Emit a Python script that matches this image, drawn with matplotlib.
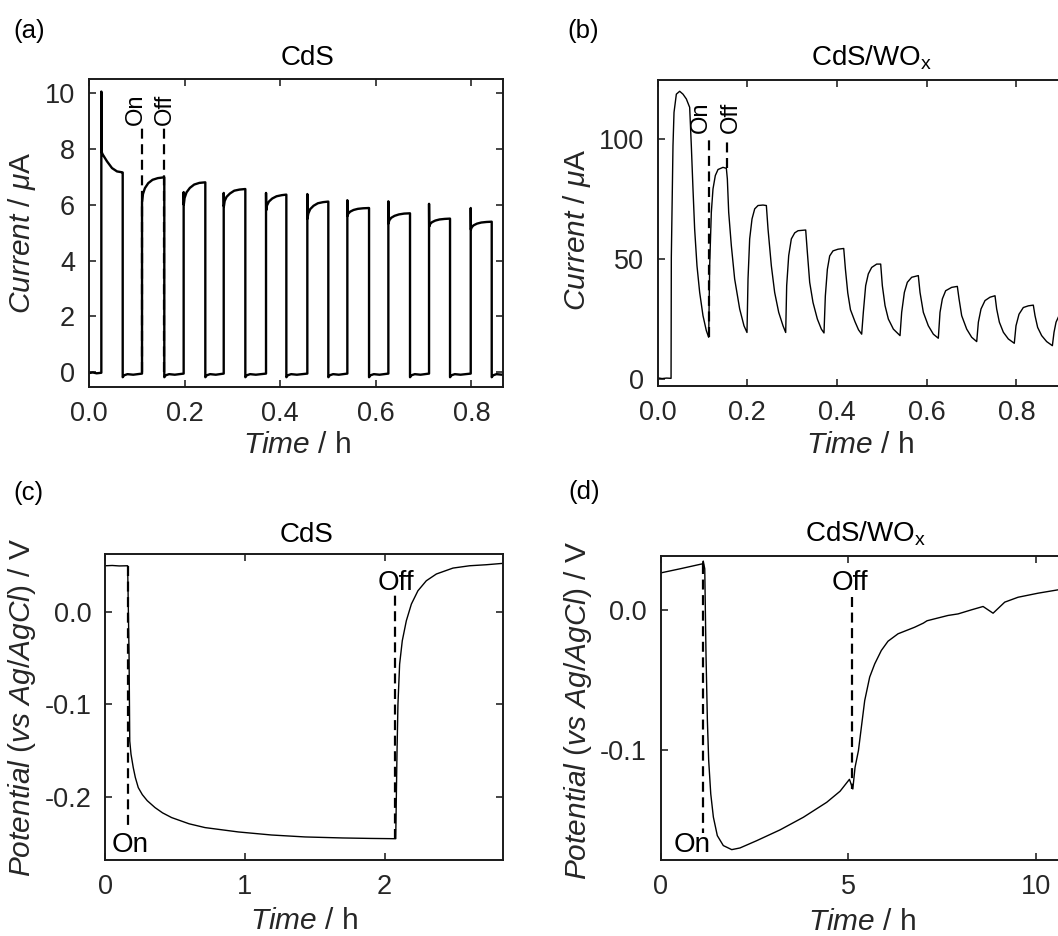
import matplotlib
matplotlib.use('Agg')
import matplotlib.pyplot as plt
from matplotlib.ticker import FormatStrFormatter

plt.rcParams['font.family'] = ['Liberation Sans', 'DejaVu Sans']
plt.rcParams['mathtext.fontset'] = 'custom'
plt.rcParams['mathtext.rm'] = 'Liberation Sans'
plt.rcParams['mathtext.it'] = 'Liberation Sans:italic'
plt.rcParams['mathtext.bf'] = 'Liberation Sans:bold'
plt.rcParams['axes.unicode_minus'] = False

# ---------------- data: (a) CdS photocurrent (uA vs h) ----------------
cds_start_t = [0.0, 0.008, 0.016, 0.0258]
cds_start_i = [-0.03, -0.01, -0.04, -0.02]
cds_light_t = [
    [0.0258, 0.0266, 0.0286, 0.0377, 0.0481, 0.0586, 0.0690, 0.0705],
    [0.1109, 0.1112, 0.1129, 0.1169, 0.1239, 0.1329, 0.1439, 0.1575],
    [0.1980, 0.1983, 0.2000, 0.2040, 0.2110, 0.2200, 0.2310, 0.2433],
    [0.2818, 0.2821, 0.2838, 0.2878, 0.2948, 0.3038, 0.3148, 0.3270],
    [0.3703, 0.3706, 0.3723, 0.3763, 0.3833, 0.3923, 0.4033, 0.4128],
    [0.4567, 0.4570, 0.4587, 0.4627, 0.4697, 0.4787, 0.4897, 0.5006],
    [0.5404, 0.5407, 0.5424, 0.5464, 0.5534, 0.5624, 0.5734, 0.5858],
    [0.6262, 0.6265, 0.6282, 0.6322, 0.6392, 0.6482, 0.6592, 0.6715],
    [0.7113, 0.7116, 0.7133, 0.7173, 0.7243, 0.7333, 0.7443, 0.7552],
    [0.7985, 0.7988, 0.8005, 0.8045, 0.8115, 0.8205, 0.8315, 0.8424],
]
cds_light_i = [
    [10.05, 7.88, 7.80, 7.55, 7.31, 7.19, 7.16, 7.15],
    [6.12, 6.12, 6.38, 6.59, 6.77, 6.89, 6.95, 6.98],
    [6.45, 6.00, 6.24, 6.44, 6.60, 6.72, 6.78, 6.80],
    [6.42, 5.94, 6.13, 6.28, 6.40, 6.50, 6.54, 6.56],
    [6.42, 5.80, 5.97, 6.11, 6.22, 6.30, 6.34, 6.36],
    [6.38, 5.50, 5.68, 5.84, 5.96, 6.05, 6.09, 6.11],
    [6.16, 5.60, 5.68, 5.75, 5.81, 5.85, 5.87, 5.88],
    [6.12, 5.33, 5.44, 5.53, 5.60, 5.65, 5.68, 5.69],
    [6.03, 5.22, 5.30, 5.37, 5.43, 5.47, 5.49, 5.50],
    [5.88, 5.11, 5.19, 5.26, 5.32, 5.36, 5.38, 5.39],
]
cds_dark_dt = [0.0, 0.003, 0.010, 0.022]
cds_dark_i = [-0.18, -0.11, -0.07, -0.09]
cds_dark_end = -0.05
cds_end_t = 0.87

# ---------------- data: (b) CdS/WOx photocurrent ----------------
wox_t = [0.000, 0.010, 0.020, 0.0300,
         0.0306, 0.0343, 0.0366, 0.0418, 0.0492, 0.0566, 0.0641, 0.0715,
         0.0752, 0.0789, 0.0826, 0.0878, 0.0938, 0.1012, 0.1086, 0.1139,
         0.1161, 0.1198, 0.1235, 0.1287, 0.1347, 0.1458, 0.1533,
         0.1555, 0.1585, 0.1644, 0.1718, 0.1830, 0.1926, 0.1993,
         0.2016, 0.2053, 0.2105, 0.2165, 0.2239, 0.2350, 0.2425,
         0.2462, 0.2536, 0.2610, 0.2700, 0.2796, 0.2856,
         0.2878, 0.2923, 0.2982, 0.3057, 0.3131, 0.3302,
         0.3339, 0.3391, 0.3465, 0.3562, 0.3651, 0.3710,
         0.3740, 0.3785, 0.3837, 0.3911, 0.4023, 0.4150,
         0.4187, 0.4240, 0.4300, 0.4401, 0.4480, 0.4550,
         0.4587, 0.4639, 0.4698, 0.4773, 0.4885, 0.4974,
         0.5011, 0.5071, 0.5145, 0.5257, 0.5405,
         0.5442, 0.5502, 0.5568, 0.5665, 0.5813,
         0.5851, 0.5925, 0.6036, 0.6148, 0.6259,
         0.6297, 0.6349, 0.6423, 0.6557, 0.6683,
         0.6721, 0.6780, 0.6892, 0.7003, 0.7115,
         0.7152, 0.7211, 0.7300, 0.7412, 0.7523,
         0.7560, 0.7620, 0.7709, 0.7820, 0.7953,
         0.7991, 0.8058, 0.8154, 0.8266, 0.8377,
         0.8415, 0.8474, 0.8563, 0.8675, 0.8802,
         0.8839, 0.8884, 0.8950, 0.9050]
wox_i = [0.6, 0.3, 0.5, 0.4,
         50.8, 97.3, 111.2, 118.8, 120.0, 118.8, 116.8, 113.3,
         97.3, 79.3, 62.6, 47.3, 36.2, 26.5, 20.3, 17.5,
         47.3, 69.6, 79.3, 84.9, 87.4, 88.3, 87.9,
         83.5, 69.6, 55.7, 41.8, 29.3, 22.3, 19.5,
         41.8, 58.5, 66.8, 71.0, 72.4, 72.6, 72.4,
         62.6, 47.3, 36.2, 27.9, 22.3, 19.5,
         39.0, 51.5, 58.5, 61.0, 61.9, 62.2,
         52.9, 40.4, 32.0, 25.1, 20.9, 19.3,
         34.7, 45.8, 51.4, 53.5, 54.2, 54.5,
         46.0, 36.0, 29.0, 24.0, 20.6, 18.8,
         27.9, 39.0, 43.9, 46.6, 48.0, 48.0,
         39.0, 30.7, 25.1, 20.9, 18.2,
         27.9, 36.2, 40.4, 42.5, 43.2,
         36.2, 27.9, 22.3, 18.8, 17.1,
         27.9, 33.5, 36.9, 38.3, 38.7,
         33.5, 26.5, 20.9, 17.5, 15.7,
         23.8, 29.3, 32.8, 34.2, 34.8,
         29.3, 23.8, 19.6, 16.8, 15.0,
         22.3, 27.1, 29.9, 30.6, 30.9,
         26.5, 21.6, 18.2, 15.7, 14.0,
         19.6, 23.8, 26.5, 28.0]

# ---------------- data: (c) CdS potential ----------------
pc_t = [0.000, 0.050, 0.100, 0.160, 0.170, 0.175, 0.184, 0.200, 0.215, 0.236,
        0.265, 0.300, 0.356, 0.410, 0.475, 0.600, 0.714, 0.952, 1.190, 1.430,
        1.700, 1.900, 2.079, 2.088, 2.095, 2.107, 2.126, 2.155, 2.191, 2.238,
        2.298, 2.370, 2.489, 2.608, 2.727, 2.847]
pc_v = [0.0497, 0.0500, 0.0495, 0.0497, -0.0457, -0.1395, -0.1538, -0.1682, -0.1790, -0.1899,
        -0.1975, -0.2040, -0.2115, -0.2172, -0.2223, -0.2290, -0.2331, -0.2378, -0.2411, -0.2432,
        -0.2443, -0.2448, -0.2451, -0.1538, -0.0998, -0.0565, -0.0313, -0.0097, 0.0083, 0.0227,
        0.0335, 0.0408, 0.0472, 0.0497, 0.0508, 0.0523]

# ---------------- data: (d) CdS/WOx potential ----------------
pd_t = [0.00, 0.51, 1.115, 1.13, 1.17, 1.203, 1.24, 1.275, 1.33, 1.40,
        1.505, 1.665, 1.89, 2.11, 2.556, 3.178, 3.80, 4.424, 4.78, 5.03,
        5.12, 5.18, 5.27, 5.348, 5.437, 5.570, 5.704, 5.881, 6.059, 6.326,
        6.771, 7.000, 7.100, 7.305, 7.661, 7.928, 8.284, 8.595, 8.862, 9.173,
        9.529, 10.063, 10.597, 11.000]
pd_v = [0.0264, 0.0293, 0.0329, 0.0348, 0.0293, -0.0314, -0.0790, -0.1076, -0.1314, -0.1480,
        -0.1612, -0.1683, -0.1712, -0.1700, -0.1648, -0.1571, -0.1481, -0.1374, -0.1295, -0.1210,
        -0.1279, -0.1124, -0.1005, -0.0838, -0.0648, -0.0480, -0.0386, -0.0290, -0.0224, -0.0171,
        -0.0124, -0.0095, -0.0078, -0.0064, -0.0040, -0.0029, 0.0000, 0.0024, -0.0024, 0.0055,
        0.0090, 0.0119, 0.0143, 0.0155]

# ---------------- figure ----------------
W, H = 1058, 936
fig = plt.figure(figsize=(W / 100, H / 100), dpi=100)
TXT = '#262626'


def px_axes(left, top, right, bottom):
    return fig.add_axes([left / W, 1 - bottom / H, (right - left) / W, (bottom - top) / H])


def style(ax):
    ax.tick_params(direction='in', top=True, right=True, length=5, width=1.2,
                   labelsize=19.5, pad=10, colors=TXT)
    for s in ax.spines.values():
        s.set_linewidth(1.4)
        s.set_color('#1a1a1a')


def dashed(ax, x, y0, y1):
    ax.plot([x, x], [y0, y1], color='k', lw=1.6, dashes=(4.5, 2.5))


LBL = 21.5
TTL = 20
ROT = 17
ANN = 20

# (a)
axA = px_axes(89, 79, 503, 387)
t = list(cds_start_t)
i = list(cds_start_i)
for k in range(len(cds_light_t)):
    t += cds_light_t[k]
    i += cds_light_i[k]
    off = cds_light_t[k][-1]
    nxt = cds_light_t[k + 1][0] if k + 1 < len(cds_light_t) else cds_end_t
    t += [off + d for d in cds_dark_dt] + [nxt]
    i += cds_dark_i + [cds_dark_end]
dashed(axA, cds_light_t[1][0], 0, 8.75)
dashed(axA, cds_light_t[1][-1], 0, 8.75)
axA.plot(t, i, color='k', lw=1.7)
axA.set_xlim(0, 0.866)
axA.set_ylim(-0.53, 10.5)
axA.set_xticks([0.0, 0.2, 0.4, 0.6, 0.8])
axA.set_yticks([0, 2, 4, 6, 8, 10])
axA.xaxis.set_major_formatter(FormatStrFormatter('%.1f'))
style(axA)
axA.text(0.098, 8.85, 'On', rotation=90, ha='center', va='bottom', fontsize=ROT)
axA.text(0.159, 8.85, 'Off', rotation=90, ha='center', va='bottom', fontsize=ROT)
axA.set_ylabel(r'$\mathit{Current}$ / $\mu$A', fontsize=LBL, color=TXT)
axA.yaxis.set_label_coords(-0.123, 0.5)
axA.set_xlabel(r'$\mathit{Time}$ / h', fontsize=LBL, color=TXT)
axA.xaxis.set_label_coords(0.502, -0.143)
axA.text(0.529, 1.045, 'CdS', transform=axA.transAxes, ha='center', va='baseline', fontsize=TTL)

# (b)
axB = px_axes(657.6, 80, 1106.1, 386)
dashed(axB, 0.1139, 17.5, 100)
dashed(axB, 0.1547, 88.0, 98.7)
axB.plot(wox_t, wox_i, color='k', lw=1.0)
axB.set_xlim(0, 1.0)
axB.set_ylim(-2.8, 124.7)
axB.set_xticks([0.0, 0.2, 0.4, 0.6, 0.8])
axB.set_yticks([0, 50, 100])
axB.xaxis.set_major_formatter(FormatStrFormatter('%.1f'))
style(axB)
axB.text(0.0975, 102.5, 'On', rotation=90, ha='center', va='bottom', fontsize=ROT)
axB.text(0.1637, 102.5, 'Off', rotation=90, ha='center', va='bottom', fontsize=ROT)
axB.set_ylabel(r'$\mathit{Current}$ / $\mu$A', fontsize=LBL, color=TXT)
axB.yaxis.set_label_coords(-0.145, 0.51)
axB.set_xlabel(r'$\mathit{Time}$ / h', fontsize=LBL, color=TXT)
axB.xaxis.set_label_coords(0.451, -0.147)
axB.text(0.477, 1.049, r'CdS/WO$_\mathregular{x}$', transform=axB.transAxes,
         ha='center', va='baseline', fontsize=TTL)

# (c)
axC = px_axes(105.3, 554, 503, 860)
dashed(axC, 0.160, 0.0497, -0.233)
dashed(axC, 2.072, -0.2451, 0.019)
axC.plot(pc_t, pc_v, color='k', lw=1.0)
axC.set_xlim(0, 2.847)
axC.set_ylim(-0.2681, 0.0624)
axC.set_xticks([0, 1, 2])
axC.set_yticks([-0.2, -0.1, 0.0])
axC.yaxis.set_major_formatter(FormatStrFormatter('%.1f'))
style(axC)
axC.text(0.178, -0.2598, 'On', ha='center', va='baseline', fontsize=ANN)
axC.text(2.08, 0.0234, 'Off', ha='center', va='baseline', fontsize=ANN)
axC.set_ylabel(r'$\mathit{Potential\ (vs\ Ag/AgCl)}$ / V', fontsize=LBL, color=TXT)
axC.yaxis.set_label_coords(-0.169, 0.497)
axC.set_xlabel(r'$\mathit{Time}$ / h', fontsize=LBL, color=TXT)
axC.xaxis.set_label_coords(0.5, -0.155)
axC.text(0.506, 1.040, 'CdS', transform=axC.transAxes, ha='center', va='baseline', fontsize=TTL)

# (d)
axD = px_axes(660.9, 555.5, 1110.7, 860)
dashed(axD, 1.115, 0.033, -0.159)
dashed(axD, 5.09, 0.009, -0.128)
axD.plot(pd_t, pd_v, color='k', lw=1.0)
axD.set_xlim(0, 12)
axD.set_ylim(-0.1786, 0.0388)
axD.set_xticks([0, 5, 10])
axD.set_yticks([-0.1, 0.0])
axD.yaxis.set_major_formatter(FormatStrFormatter('%.1f'))
style(axD)
axD.text(0.82, -0.1729, 'On', ha='center', va='baseline', fontsize=ANN)
axD.text(5.04, 0.0143, 'Off', ha='center', va='baseline', fontsize=ANN)
axD.set_ylabel(r'$\mathit{Potential\ (vs\ Ag/AgCl)}$ / V', fontsize=LBL, color=TXT)
axD.yaxis.set_label_coords(-0.149, 0.49)
axD.set_xlabel(r'$\mathit{Time}$ / h', fontsize=LBL, color=TXT)
axD.xaxis.set_label_coords(0.447, -0.156)
axD.text(0.456, 1.045, r'CdS/WO$_\mathregular{x}$', transform=axD.transAxes,
         ha='center', va='baseline', fontsize=TTL)

# panel letters
for lab, x, y in [('(a)', 13, 31), ('(b)', 567, 31), ('(c)', 13, 493), ('(d)', 568, 492)]:
    fig.text(x / W, 1 - y / H, lab, ha='left', va='center', fontsize=18.5)

fig.savefig('out.png', dpi=100)
